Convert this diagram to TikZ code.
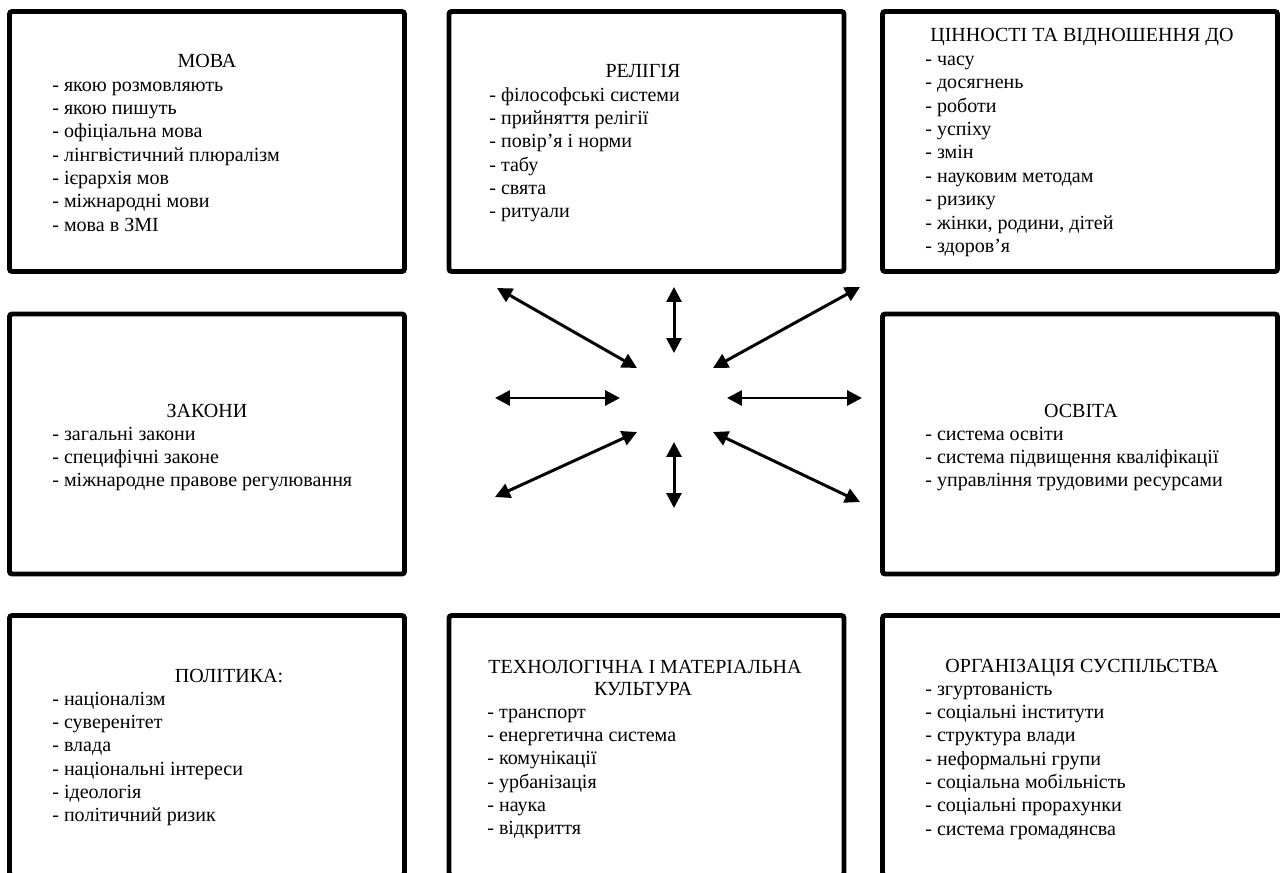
\documentclass[tikz,border=0pt]{standalone}
\usepackage{fontspec}
\setmainfont{Liberation Serif}
\usetikzlibrary{arrows.meta}
\begin{document}
\begin{tikzpicture}[x=0.2cm,y=-0.2cm,
box/.style={draw,line width=2.8pt,rounded corners=1.5pt,minimum width=7.9cm,minimum height=5.2cm},
head/.style={inner sep=0pt,anchor=base,font=\fontsize{11.4}{13.6}\selectfont},
item/.style={inner sep=0pt,anchor=base west,font=\fontsize{11.4}{13.6}\selectfont},
link/.style={{Triangle[length=8.5pt,width=8.5pt]}-{Triangle[length=8.5pt,width=8.5pt]},line width=1.7pt}]
\useasboundingbox (0,0) rectangle (128,87.3);
\clip (0,0) rectangle (128,87.3);
\node[box] (mova) at (20.7,14.15) {};
\node[box] (religiya) at (64.65,14.15) {};
\node[box] (tsinnosti) at (108,14.15) {};
\node[box] (zakony) at (20.7,44.4) {};
\node[box] (osvita) at (108,44.4) {};
\node[box] (polityka) at (20.7,74.55) {};
\node[box] (tekhn) at (64.65,74.55) {};
\node[box,minimum width=8.2cm] (orhan) at (108.75,74.55) {};
\node[head] (movaH) at (20.7,6.8) {МОВА};
\foreach \t [count=\i] in {якою розмовляють,якою пишуть,офіціальна мова,лінгвістичний плюралізм,ієрархія мов,міжнародні мови,мова в ЗМІ}
\node[item] (mova\i) at (5.2,{6.8+2.33*\i}) {- \t};
\node[head] (religiyaH) at (64.3,7.8) {РЕЛІГІЯ};
\foreach \t [count=\i] in {філософські системи,прийняття релігії,повір'я і норми,табу,свята,ритуали}
\node[item] (religiya\i) at (48.9,{7.8+2.33*\i}) {- \t};
\node[head] (tsinnostiH) at (108.2,4.2) {ЦІННОСТІ ТА ВІДНОШЕННЯ ДО};
\foreach \t [count=\i] in {часу,досягнень,роботи,успіху,змін,науковим методам,ризику,{жінки, родини, дітей},здоров'я}
\node[item] (tsinnosti\i) at (92.5,{4.2+2.34*\i}) {- \t};
\node[head] (zakonyH) at (20.7,41.7) {ЗАКОНИ};
\foreach \t [count=\i] in {загальні закони,специфічні законе,міжнародне правове регулювання}
\node[item] (zakony\i) at (5.2,{41.7+2.33*\i}) {- \t};
\node[head] (osvitaH) at (108.1,41.7) {ОСВІТА};
\foreach \t [count=\i] in {система освіти,система підвищення кваліфікації,управління трудовими ресурсами}
\node[item] (osvita\i) at (92.5,{41.7+2.33*\i}) {- \t};
\node[head] (politykaH) at (22.9,68.2) {ПОЛІТИКА:};
\foreach \t [count=\i] in {націоналізм,суверенітет,влада,національні інтереси,ідеологія,політичний ризик}
\node[item] (polityka\i) at (5.2,{68.2+2.33*\i}) {- \t};
\node[head] (tekhnH) at (64.5,67.3) {ТЕХНОЛОГІЧНА І МАТЕРІАЛЬНА};
\node[head] (tekhnHH) at (64.3,69.5) {КУЛЬТУРА};
\foreach \t [count=\i] in {транспорт,енергетична система,комунікації,урбанізація,наука,відкриття}
\node[item] (tekhn\i) at (48.7,{69.5+2.33*\i}) {- \t};
\node[head] (orhanH) at (108.2,67.2) {ОРГАНІЗАЦІЯ СУСПІЛЬСТВА};
\foreach \t [count=\i] in {згуртованість,соціальні інститути,структура влади,неформальні групи,соціальна мобільність,соціальні прорахунки,система громадянсва}
\node[item] (orhan\i) at (92.5,{67.2+2.33*\i}) {- \t};
\coordinate (NW1) at (49.7,28.8);
\coordinate (NW2) at (63.7,36.8);
\coordinate (N1) at (67.4,28.7);
\coordinate (N2) at (67.4,35.3);
\coordinate (NE1) at (86,28.7);
\coordinate (NE2) at (71.3,36.8);
\coordinate (W1) at (49.5,39.8);
\coordinate (W2) at (62,39.8);
\coordinate (E1) at (72.7,39.8);
\coordinate (E2) at (86.2,39.8);
\coordinate (SW1) at (63.7,43.2);
\coordinate (SW2) at (49.5,49.7);
\coordinate (S1) at (67.4,44.2);
\coordinate (S2) at (67.4,50.8);
\coordinate (SE1) at (71.3,43.2);
\coordinate (SE2) at (86,50.2);
\draw[link] (NW1)--(NW2);
\draw[link] (N1)--(N2);
\draw[link] (NE1)--(NE2);
\draw[link] (W1)--(W2);
\draw[link] (E1)--(E2);
\draw[link] (SW1)--(SW2);
\draw[link] (S1)--(S2);
\draw[link] (SE1)--(SE2);
\end{tikzpicture}
\end{document}
